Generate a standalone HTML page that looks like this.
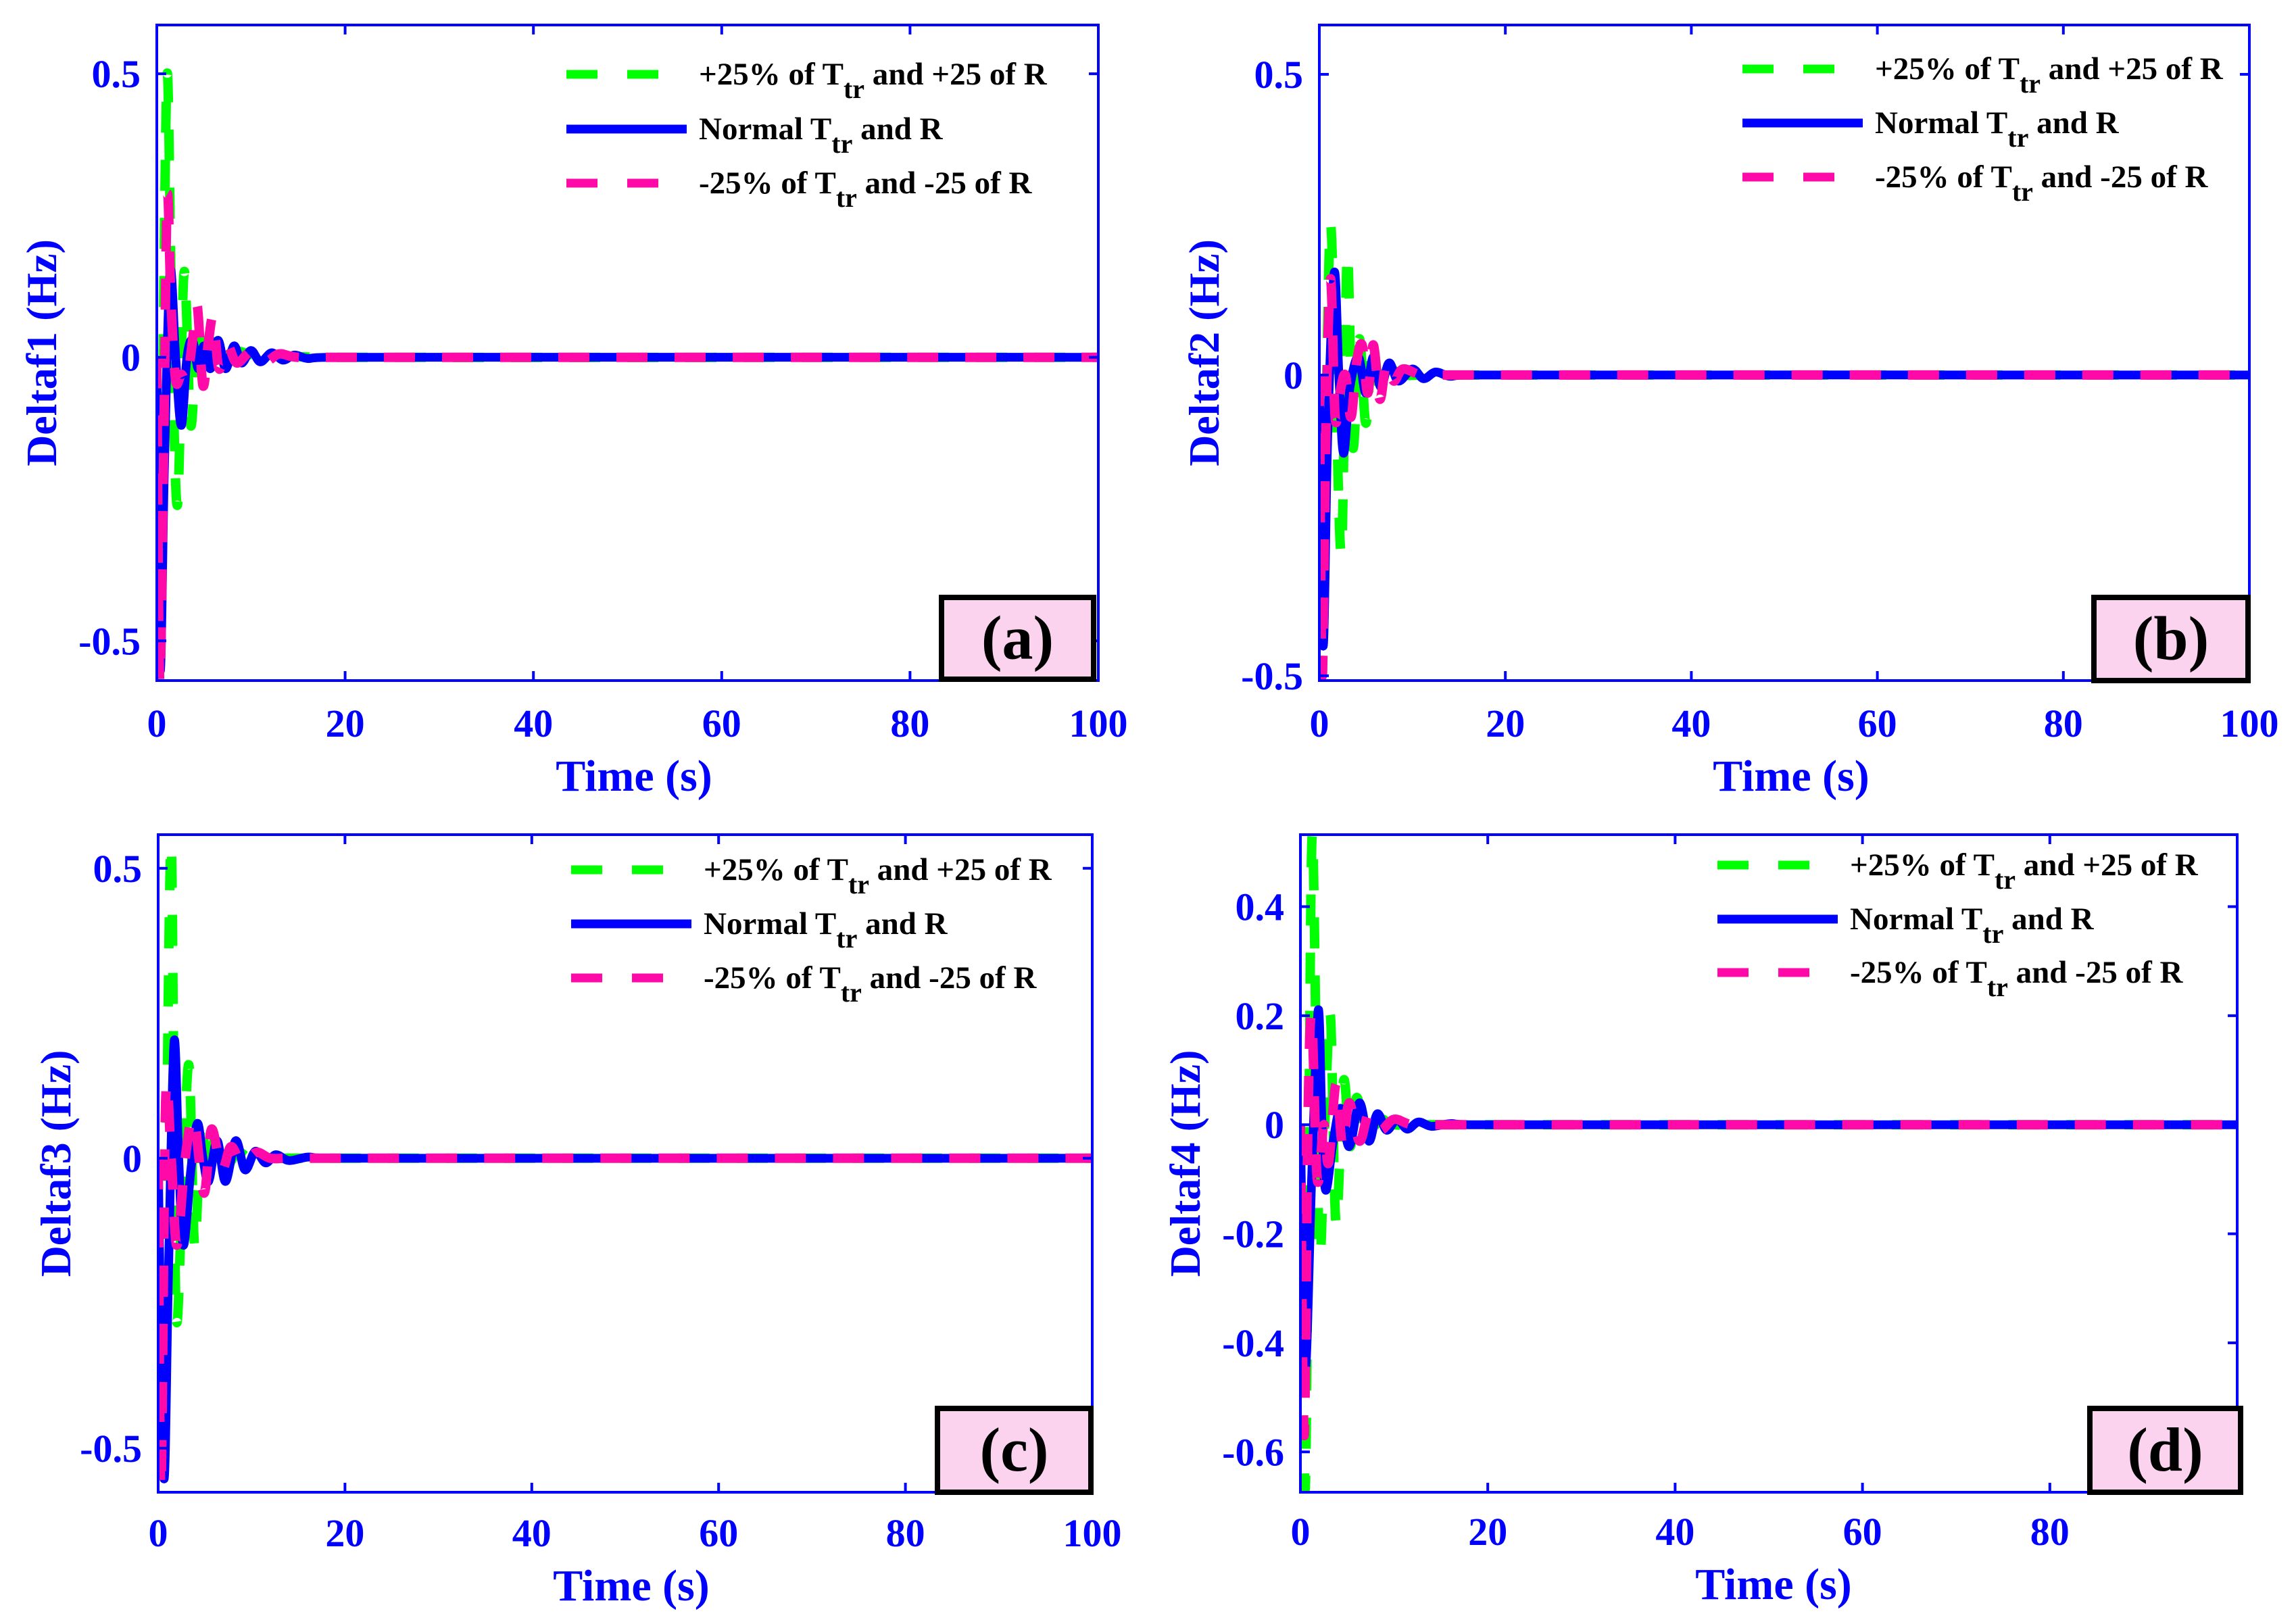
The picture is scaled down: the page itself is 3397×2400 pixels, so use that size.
<!DOCTYPE html>
<html><head><meta charset="utf-8">
<style>
html,body{margin:0;padding:0;background:#fff;}
svg{display:block;}
svg text{font-family:"Liberation Serif","Times New Roman",serif;font-weight:bold;}
</style></head>
<body>
<svg id="fig" xmlns="http://www.w3.org/2000/svg" width="3397" height="2400" viewBox="0 0 3397 2400" font-family="Liberation Serif, serif">
<rect x="0" y="0" width="3397" height="2400" fill="#fff"/>
</svg>
<script>
// ---- data (time in s, deviation in Hz) ----
const xTicks = [0,20,40,60,80,100];
const xTicksD = [0,20,40,60,80];
const yTicksAB = [-0.5,0,0.5];
const yTickLabelsAB = ["-0.5","0","0.5"];
const yTicksD = [-0.6,-0.4,-0.2,0,0.2,0.4];
const yTickLabelsD = ["-0.6","-0.4","-0.2","0","0.2","0.4"];
const seriesNames = ["+25% of T","Normal T","-25% of T"];

const aGreenT = [0,0.25,0.6,1.1,1.6,2.2,2.9,3.6,4.3,5,5.7,6.5,8,10,12,14,18,100];
const aGreenV = [0,-0.57,-0.1,0.5,0.05,-0.26,0.15,-0.12,0.05,-0.03,0.03,-0.02,0.01,0.005,-0.004,0.002,0,0];
const aBlueT = [0,0.35,0.8,1.4,2,2.6,3.2,3.8,4.4,5,5.7,6.5,7.3,8.2,9,10,11,12.2,13.4,14.6,16,18,100];
const aBlueV = [0,-0.55,-0.2,0.15,0.0,-0.12,0.0,0.03,-0.02,0.02,-0.02,0.03,-0.02,0.02,-0.01,0.012,-0.008,0.008,-0.005,0.004,-0.002,0,0];
const aPinkT = [0,0.3,0.7,1.1,1.5,2,2.6,3.2,3.8,4.3,4.9,5.5,6,6.6,7.5,8.5,10,11.5,13,15,20,100];
const aPinkV = [0,-0.57,-0.2,0.28,0.1,-0.04,-0.03,-0.04,0.03,0.09,-0.05,0.03,0.07,-0.02,0.02,-0.01,0.01,-0.008,0.006,0,0,0];

const bGreenT = [0,0.3,0.7,1.2,1.8,2.4,3,3.6,4.3,5,5.7,6.5,7.5,9,12,100];
const bGreenV = [0,-0.5,-0.1,0.25,-0.05,-0.29,0.2,-0.12,0.06,-0.08,0.05,-0.02,0.01,0,0,0];
const bBlueT = [0,0.4,0.9,1.6,2.1,2.6,3.3,4.2,5,5.8,6.6,7.5,8.5,10,11.2,12.5,14,16,100];
const bBlueV = [0,-0.45,-0.1,0.17,0.0,-0.13,-0.02,0.03,-0.03,0.03,-0.02,0.02,-0.01,0.01,-0.006,0.005,-0.002,0,0];
const bPinkT = [0,0.3,0.7,1.2,1.7,2.2,2.8,3.4,4,4.6,5.2,5.8,6.5,7.2,8,9,11,14,100];
const bPinkV = [0,-0.5,-0.1,0.16,-0.07,-0.03,0.0,-0.07,0.02,0.05,-0.03,0.05,-0.04,0.02,-0.01,0.01,0,0,0];

const cGreenT = [0,0.3,0.8,1.4,1.9,2.6,3.3,3.9,4.6,5.3,6,7,8.5,10,14,100];
const cGreenV = [0,-0.57,-0.1,0.54,-0.26,-0.05,0.16,-0.15,0.06,-0.04,0.03,-0.02,0.01,0,0,0];
const cBlueT = [0,0.6,1.1,1.7,2.2,2.7,3.5,4.2,4.8,5.4,6.3,7.2,8.3,9.3,10.4,11.5,12.6,14,16,18,100];
const cBlueV = [0,-0.55,-0.2,0.2,0.0,-0.15,-0.02,0.06,0.0,-0.04,0.03,-0.04,0.03,-0.02,0.012,-0.008,0.006,-0.004,0.002,0,0];
const cPinkT = [0,0.3,0.8,1.4,2,2.9,3.8,4.9,5.7,6.8,7.8,9,10.5,12,14,20,100];
const cPinkV = [0,-0.57,0.1,0.0,-0.15,0.0,0.07,-0.06,0.05,-0.02,0.02,-0.01,0.01,0,0,0,0];

const dGreenT = [0,0.5,0.9,1.3,2.0,2.6,3.2,3.8,4.6,5.3,6,7,8.5,10,14,100];
const dGreenV = [0,-0.67,0.0,0.53,-0.22,0.0,0.2,-0.18,0.08,-0.04,0.05,-0.02,0.01,0,0,0];
const dBlueT = [0,0.5,1.2,1.9,2.3,2.7,3.5,4.3,5.2,6.3,7.3,8.2,9.2,10.3,11.4,12.6,14,16,18,100];
const dBlueV = [0,-0.45,-0.1,0.21,0.0,-0.12,-0.03,0.03,-0.04,0.04,-0.03,0.02,-0.01,0.01,-0.008,0.005,-0.003,0.002,0,0];
const dPinkT = [0,0.4,0.8,1.2,1.8,2.5,3.0,3.8,4.5,5.2,6.3,7.3,8.5,10,12,16,100];
const dPinkV = [0,-0.57,0.0,0.2,-0.1,0.0,-0.07,0.075,-0.04,0.04,-0.03,0.02,-0.01,0.01,0,0,0];

const panelLabels = ["(a)","(b)","(c)","(d)"];
const yTitles = ["Deltaf1 (Hz)","Deltaf2 (Hz)","Deltaf3 (Hz)","Deltaf4 (Hz)"];

// ---- layout ----
const NS = "http://www.w3.org/2000/svg";
const svg = document.getElementById("fig");
function el(tag, attrs, parent){
  const e = document.createElementNS(NS, tag);
  for (const k in attrs) e.setAttribute(k, attrs[k]);
  (parent||svg).appendChild(e);
  return e;
}
const BLUE = "#0000ff";
const panels = [
  {id:"a", L:232, R:1625, T:37, B:1007, yMin:-0.57, yMax:0.586, xt:xTicks, yt:yTicksAB, ytl:yTickLabelsAB,
   g:[aGreenT,aGreenV], b:[aBlueT,aBlueV], p:[aPinkT,aPinkV], ylx:61, lgX:838, lgY:[110,191,271], lab:[1393,884,1618,1005], tx:938, ticky:1070, ty:1148},
  {id:"b", L:1952, R:3328, T:37, B:1007, yMin:-0.508, yMax:0.582, xt:xTicks, yt:yTicksAB, ytl:yTickLabelsAB,
   g:[bGreenT,bGreenV], b:[bBlueT,bBlueV], p:[bPinkT,bPinkV], ylx:1781, lgX:2578, lgY:[102,182,262], lab:[3098,884,3326,1007], tx:2650, ticky:1070, ty:1148},
  {id:"c", L:234, R:1616, T:1235, B:2208, yMin:-0.576, yMax:0.558, xt:xTicks, yt:yTicksAB, ytl:yTickLabelsAB,
   g:[cGreenT,cGreenV], b:[cBlueT,cBlueV], p:[cPinkT,cPinkV], ylx:82, lgX:845, lgY:[1287,1367,1447], lab:[1387,2084,1614,2208], tx:934, ticky:2268, ty:2346},
  {id:"d", L:1924, R:3310, T:1235, B:2208, yMin:-0.674, yMax:0.532, xt:xTicksD, yt:yTicksD, ytl:yTickLabelsD,
   g:[dGreenT,dGreenV], b:[dBlueT,dBlueV], p:[dPinkT,dPinkV], ylx:1753, lgX:2541, lgY:[1280,1360,1439], lab:[3092,2084,3315,2208], tx:2624, ticky:2266, ty:2344}
];

function smoothPath(xs, ys){
  let d = "M"+xs[0].toFixed(1)+","+ys[0].toFixed(1);
  for (let i=0;i<xs.length-1;i++){
    const x0=xs[Math.max(i-1,0)], y0=ys[Math.max(i-1,0)];
    const x1=xs[i], y1=ys[i], x2=xs[i+1], y2=ys[i+1];
    const x3=xs[Math.min(i+2,xs.length-1)], y3=ys[Math.min(i+2,xs.length-1)];
    let c1x=x1+(x2-x0)/6, c1y=y1+(y2-y0)/6, c2x=x2-(x3-x1)/6, c2y=y2-(y3-y1)/6;
    c1x=Math.min(Math.max(c1x,x1),x2); c2x=Math.min(Math.max(c2x,x1),x2);
    d += " C"+c1x.toFixed(1)+","+c1y.toFixed(1)+" "+c2x.toFixed(1)+","+c2y.toFixed(1)+" "+x2.toFixed(1)+","+y2.toFixed(1);
  }
  return d;
}

panels.forEach((P, idx)=>{
  const xS = t => P.L + (t/100)*(P.R-P.L);
  const yS = v => P.B - (v-P.yMin)/(P.yMax-P.yMin)*(P.B-P.T);
  const g = el("g", {});
  
  
  const clipId = "clip"+P.id;
  const cp = el("clipPath", {id:clipId}, g);
  el("rect", {x:P.L, y:P.T, width:P.R-P.L, height:P.B-P.T}, cp);

  const lines = g.appendChild(document.createElementNS(NS,"g"));
  lines.setAttribute("clip-path","url(#"+clipId+")");
  const specs = [
    {arr:P.g, color:"#00ff00", dash:"46 40", w:14, name:"series-plus25"},
    {arr:P.b, color:BLUE, dash:"", w:13, name:"series-normal"},
    {arr:P.p, color:"#ff0aa8", dash:"46 40", w:14, name:"series-minus25"}
  ];
  specs.forEach(s=>{
    const xs = s.arr[0].map(xS), ys = s.arr[1].map(yS);
    const path = el("path", {d:smoothPath(xs,ys), fill:"none", stroke:s.color, "stroke-width":s.w, "stroke-linejoin":"round"}, lines);
    if (s.dash) path.setAttribute("stroke-dasharray", s.dash);
    
    
  });

  const box = el("rect", {x:P.L, y:P.T, width:P.R-P.L, height:P.B-P.T, fill:"none", stroke:BLUE, "stroke-width":4}, g);
  
  

  P.xt.forEach(t=>{
    const x = xS(t);
    el("line", {x1:x, y1:P.B, x2:x, y2:P.B-14, stroke:BLUE, "stroke-width":4}, g);
    el("line", {x1:x, y1:P.T, x2:x, y2:P.T+14, stroke:BLUE, "stroke-width":4}, g);
    const tl = el("text", {x:x, y:P.ticky+20, "font-size":58, fill:BLUE, "text-anchor":"middle"}, g);
    tl.textContent = String(t);
    
    
  });
  P.yt.forEach((v,i)=>{
    const y = yS(v);
    el("line", {x1:P.L, y1:y, x2:P.L+14, y2:y, stroke:BLUE, "stroke-width":4}, g);
    el("line", {x1:P.R, y1:y, x2:P.R-14, y2:y, stroke:BLUE, "stroke-width":4}, g);
    const tl = el("text", {x:P.L-24, y:y+20, "font-size":58, fill:BLUE, "text-anchor":"end"}, g);
    tl.textContent = P.ytl[i];
    
    
  });
  const xt = el("text", {x:P.tx, y:P.ty+22, "font-size":66, fill:BLUE, "text-anchor":"middle"}, g);
  xt.textContent = "Time (s)";
  
  
  const cy = (P.T+P.B)/2;
  const yt = el("text", {x:0, y:0, "font-size":64, fill:BLUE, "text-anchor":"middle", transform:"translate("+(P.ylx+22)+","+cy+") rotate(-90)"}, g);
  yt.textContent = yTitles[idx];
  
  

  const lg = el("g", {}, g);
  
  
  const lcol = ["#00ff00", BLUE, "#ff0aa8"];
  const tails = [" and +25 of R"," and R"," and -25 of R"];
  for (let i=0;i<3;i++){
    const ly = P.lgY[i];
    const ln = el("line", {x1:P.lgX, y1:ly, x2:P.lgX+178, y2:ly, stroke:lcol[i], "stroke-width":13}, lg);
    if (i!==1) ln.setAttribute("stroke-dasharray","46 44");
    const tx = el("text", {x:P.lgX+196, y:ly+15, "font-size":47, fill:"#000"}, lg);
    
    
    const t1 = document.createElementNS(NS,"tspan"); t1.textContent = seriesNames[i]; tx.appendChild(t1);
    const t2 = document.createElementNS(NS,"tspan"); t2.textContent = "tr"; t2.setAttribute("dy","20"); t2.setAttribute("font-size","40"); tx.appendChild(t2);
    const t3 = document.createElementNS(NS,"tspan"); t3.textContent = tails[i]; t3.setAttribute("dy","-20"); tx.appendChild(t3);
  }

  const [x1,y1,x2,y2] = P.lab;
  const lb = el("rect", {x:x1, y:y1, width:x2-x1, height:y2-y1, fill:"#fbd3ee", stroke:"#000", "stroke-width":8}, g);
  
  
  const lt = el("text", {x:(x1+x2)/2, y:(y1+y2)/2+30, "font-size":92, fill:"#000", "text-anchor":"middle"}, g);
  lt.textContent = panelLabels[idx];
  
  
});
</script>
</body></html>
